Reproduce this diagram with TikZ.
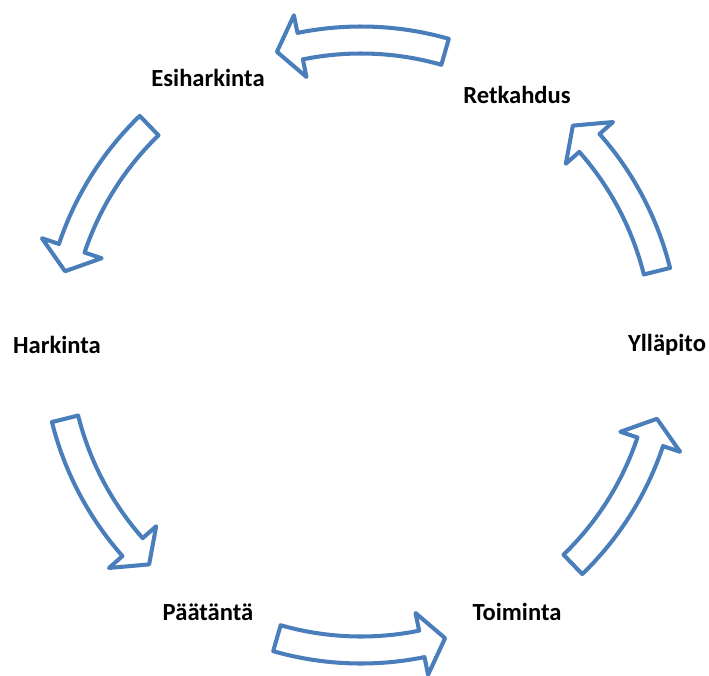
\documentclass[tikz,border=0pt]{standalone}
\usepackage{fontspec}
\setmainfont{Carlito}
\definecolor{kiertosin}{RGB}{74,126,187}

\tikzset{
    vaihe/.style={font=\fontsize{14}{16}\selectfont\bfseries, inner sep=0pt},
    nuoli/.style={draw=kiertosin, fill=white, line width=2.3pt, line join=round},
}

% curved block arrow on the cycle, #1 = angle of the stage it leaves
\newcommand{\kiertonuoli}[1]{%
    \filldraw[nuoli] ({#1+14}:6.37)
        arc[start angle={#1+14}, end angle={#1+41.5}, radius=6.37]
        -- ({#1+41.5}:6.73) -- ({#1+46}:6.1) -- ({#1+41.5}:5.47)
        -- ({#1+41.5}:5.83)
        arc[start angle={#1+41.5}, end angle={#1+14}, radius=5.83]
        -- cycle;}

\begin{document}
\begin{tikzpicture}

    \useasboundingbox (-7.22,-6.6) rectangle (6.96,6.9);

    \node[vaihe] (yllapito) at (6.12,0) {Ylläpito};
    \node[vaihe] (retkahdus) at (3.12,5.0) {Retkahdus};
    \node[vaihe] (esi) at (-3.06,5.34) {Esiharkinta};
    \node[vaihe] (harkinta) at (-6.08,0) {Harkinta};
    \node[vaihe] (paatanta) at (-3.06,-5.34) {Päätäntä};
    \node[vaihe] (toiminta) at (3.12,-5.34) {Toiminta};

    \kiertonuoli{0}
    \kiertonuoli{60}
    \kiertonuoli{120}
    \kiertonuoli{180}
    \kiertonuoli{240}
    \kiertonuoli{300}

\end{tikzpicture}
\end{document}
